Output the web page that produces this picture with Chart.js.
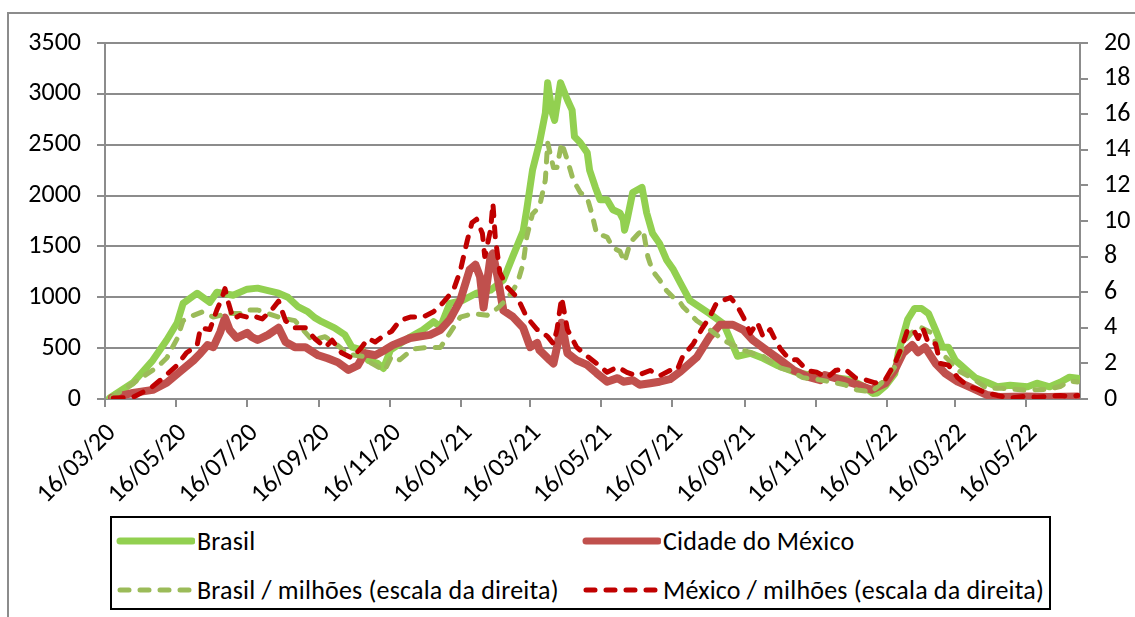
<!DOCTYPE html>
<html>
<head>
<meta charset="utf-8">
<script src="https://cdn.jsdelivr.net/npm/chart.js@4.4.1/dist/chart.umd.min.js"></script>
<style>
  html, body { margin: 0; padding: 0; background: #fff; }
  #wrap { position: relative; width: 1135px; height: 617px; overflow: hidden; font-family: Carlito, Lato, sans-serif; }
  #frame { position: absolute; left: 7px; top: 12px; width: 1140px; height: 620px; border-top: 2px solid #8c8c8c; border-left: 2px solid #8c8c8c; }
  canvas { position: absolute; left: 0; top: 0; }
  #legend { position: absolute; left: 110px; top: 516px; width: 937px; height: 90px; border: 2px solid #000; background: #fff; }
  .item { position: absolute; height: 30px; display: flex; align-items: center; font-size: 26px; letter-spacing: 0.2px; color: #000; white-space: nowrap; }
  .item svg { margin-right: 2px; }
</style>
</head>
<body>
<div id="wrap">
  <div id="frame"></div>
  <canvas id="c" width="1135" height="617"></canvas>
  <div id="legend">
    <div class="item" style="left:3px;top:8px;"><svg width="80" height="12"><line x1="5" y1="6" x2="77" y2="6" stroke="#92D050" stroke-width="7" stroke-linecap="round"/></svg><span>Brasil</span></div>
    <div class="item" style="left:469px;top:8px;"><svg width="80" height="12"><line x1="5" y1="6" x2="77" y2="6" stroke="#C0504D" stroke-width="7" stroke-linecap="round"/></svg><span>Cidade do México</span></div>
    <div class="item" style="left:3px;top:57px;"><svg width="80" height="12"><line x1="5" y1="6" x2="77" y2="6" stroke="#9BBB59" stroke-width="5" stroke-linecap="round" stroke-dasharray="9 11"/></svg><span>Brasil / milhões (escala da direita)</span></div>
    <div class="item" style="left:469px;top:57px;"><svg width="80" height="12"><line x1="5" y1="6" x2="77" y2="6" stroke="#C00000" stroke-width="5" stroke-linecap="round" stroke-dasharray="9 11"/></svg><span>México / milhões (escala da direita)</span></div>
  </div>
</div>
<script>
// Day offsets are counted from 16/03/2020.
const startDate = '2020-03-16';
const lastDay = 837;

const xTickLabels = ['16/03/20','16/05/20','16/07/20','16/09/20','16/11/20','16/01/21','16/03/21','16/05/21','16/07/21','16/09/21','16/11/21','16/01/22','16/03/22','16/05/22'];

const yLeftTicks = [0, 500, 1000, 1500, 2000, 2500, 3000, 3500];
const yRightTicks = [0, 2, 4, 6, 8, 10, 12, 14, 16, 18, 20];

const seriesNames = ['Brasil', 'Cidade do México', 'Brasil / milhões (escala da direita)', 'México / milhões (escala da direita)'];

const brasilDays   = [4,24,41,53,62,67,79,90,96,110,122,131,149,157,166,174,180,186,197,206,212,221,226,234,239,245,262,273,282,288,296,307,319,331,342,350,359,362,367,373,378,380,384,386,391,397,401,403,408,414,416,421,425,431,436,442,445,446,448,453,461,465,470,476,482,488,494,502,519,531,543,554,565,577,591,603,614,627,640,652,659,663,670,678,681,689,695,701,707,713,719,724,730,734,741,747,757,766,777,792,800,811,820,828,835];
const brasilValues = [10,160,380,580,750,940,1040,950,1050,1020,1080,1090,1040,1000,905,860,800,760,700,630,510,480,380,350,300,480,610,680,760,710,940,970,1040,1070,1170,1400,1650,1860,2250,2520,2810,3110,2810,2740,3110,2940,2840,2580,2520,2420,2250,2080,1960,1960,1860,1830,1760,1660,1750,2030,2080,1830,1630,1530,1370,1270,1140,970,840,740,420,450,400,330,270,240,230,210,190,120,55,60,130,250,450,780,890,890,840,680,510,510,380,340,270,210,165,120,135,120,155,120,165,215,205];

const cidadeDays   = [6,24,41,53,64,76,82,88,93,99,103,107,113,122,126,131,140,149,155,163,172,183,191,200,209,217,223,232,240,247,262,279,288,296,305,313,318,322,325,331,333,337,342,350,359,365,371,373,382,385,388,392,397,405,414,422,431,440,445,453,459,468,476,485,494,508,519,528,539,548,556,568,580,591,603,614,618,633,646,658,670,678,685,693,698,704,713,721,732,744,757,768,790,810,835];
const cidadeValues = [10,60,90,160,265,380,450,530,510,660,800,680,600,650,610,580,630,700,560,510,510,430,400,360,285,330,450,430,480,530,600,630,680,780,970,1270,1320,1200,900,1400,1430,1200,870,810,700,510,550,480,380,350,510,750,450,380,335,255,170,205,170,185,140,155,170,195,270,410,610,730,730,680,580,480,380,285,220,185,235,185,140,90,155,285,450,530,460,510,350,255,170,110,40,20,25,20,25];

const brasilMilDays   = [6,45,53,62,67,76,84,93,105,116,122,131,149,163,178,189,200,209,221,229,240,246,253,264,276,288,296,305,316,328,337,345,354,359,362,367,373,378,380,385,388,392,397,402,408,414,418,422,431,436,442,446,451,458,462,466,470,476,482,488,494,496,508,519,531,543,554,565,577,588,599,611,620,635,646,658,670,678,687,695,701,710,715,724,732,744,757,770,790,810,820,828,835];
const brasilMilValues = [0.1,1.8,2.3,3.4,4.4,4.7,4.9,4.6,4.8,4.8,5.0,5.0,4.6,4.4,3.3,3.5,3.0,2.5,2.4,2.0,1.6,2.4,2.2,2.8,2.9,2.9,3.7,4.6,4.8,4.7,5.1,5.6,6.5,7.6,9.1,10.4,10.8,12.3,14.4,13.0,13.0,14.4,13.4,12.3,11.6,11.3,10.4,9.3,9.1,8.5,8.3,7.7,8.8,9.3,9.5,8.0,7.2,6.7,6.1,5.7,5.4,5.2,4.4,3.9,3.3,2.9,2.6,2.4,1.8,1.6,1.2,1.1,1.0,0.8,0.5,0.4,1.1,1.8,3.3,3.9,4.0,3.7,2.8,2.2,1.6,1.2,0.6,0.6,0.5,0.55,0.7,1.0,0.95];

const mexicoMilDays   = [7,24,39,50,62,70,79,82,90,96,100,103,106,110,116,122,126,135,143,149,155,163,172,180,189,195,203,212,219,226,232,238,246,253,262,273,282,290,299,305,311,315,319,324,326,331,333,335,339,345,354,362,371,373,380,385,388,392,397,405,414,422,431,440,448,456,468,476,485,491,496,505,513,519,525,537,543,548,554,560,565,571,574,580,588,594,603,611,620,627,635,644,652,661,670,678,684,689,694,698,702,707,713,717,724,732,741,747,754,766,777,790,800,810,820,828,835];
const mexicoMilValues = [0.05,0.1,0.6,1.2,1.9,2.6,3.0,4.0,3.9,5.0,5.6,6.2,5.4,4.5,4.7,4.6,4.7,4.5,5.0,5.5,4.4,4.0,4.0,3.4,2.9,3.3,2.6,2.3,2.8,3.4,3.2,3.5,3.8,4.4,4.6,4.6,4.9,5.4,6.1,7.2,8.9,9.9,10.1,9.3,8.0,9.5,11.0,9.1,7.1,6.3,5.7,4.6,3.9,3.9,3.5,3.1,3.9,5.7,3.9,2.9,2.4,2.0,1.5,1.8,1.5,1.3,1.6,1.3,1.6,1.6,2.4,3.1,4.0,4.6,5.4,5.7,5.2,4.6,3.7,4.3,3.5,3.9,3.5,2.8,2.2,2.2,1.6,1.5,1.2,1.6,1.7,1.2,1.1,0.9,1.1,2.0,2.9,3.9,3.9,3.4,4.0,3.1,3.1,2.0,1.9,1.2,0.7,0.6,0.4,0.2,0.05,0.15,0.1,0.15,0.2,0.15,0.2];

function pts(days, vals) { return days.map((d, i) => ({ x: d, y: vals[i] })); }
function dayOf(label) {
  const [d, m, y] = label.split('/').map(Number);
  const t = Date.UTC(2000 + y, m - 1, d);
  const s = Date.parse(startDate + 'T00:00:00Z');
  return Math.round((t - s) / 86400000);
}
const xTickDays = xTickLabels.map(dayOf);

const FONT = { family: 'Carlito, Lato, sans-serif', size: 26 };
const GRID = '#8c8c8c';

new Chart(document.getElementById('c'), {
  type: 'line',
  data: {
    datasets: [
      { label: seriesNames[0], data: pts(brasilDays, brasilValues), yAxisID: 'y', borderColor: '#92D050', borderWidth: 7, order: 4 },
      { label: seriesNames[1], data: pts(cidadeDays, cidadeValues), yAxisID: 'y', borderColor: '#C0504D', borderWidth: 8, order: 3 },
      { label: seriesNames[2], data: pts(brasilMilDays, brasilMilValues), yAxisID: 'y2', borderColor: '#9BBB59', borderWidth: 5, borderDash: [9, 11], order: 2 },
      { label: seriesNames[3], data: pts(mexicoMilDays, mexicoMilValues), yAxisID: 'y2', borderColor: '#C00000', borderWidth: 5, borderDash: [10, 11], order: 1 }
    ]
  },
  options: {
    responsive: false,
    animation: false,
    devicePixelRatio: 1,
    layout: { padding: { top: 43, left: 0, right: 0, bottom: 0 } },
    elements: {
      point: { radius: 0 },
      line: { tension: 0, borderCapStyle: 'round', borderJoinStyle: 'round', fill: false }
    },
    plugins: { legend: { display: false }, tooltip: { enabled: false } },
    scales: {
      x: {
        type: 'linear', min: 0, max: lastDay,
        afterBuildTicks: s => { s.ticks = xTickDays.map(v => ({ value: v })); },
        afterFit: s => { s.height = 617 - 399; },
        ticks: { autoSkip: false, maxRotation: 45, minRotation: 45, font: FONT, color: '#000', padding: 11, labelOffset: 7,
                 callback: (v, i) => xTickLabels[i] },
        grid: { drawOnChartArea: false, drawTicks: true, tickLength: 8, color: GRID, lineWidth: 2 },
        border: { color: GRID, width: 2 }
      },
      y: {
        position: 'left', min: 0, max: 3500,
        afterBuildTicks: s => { s.ticks = yLeftTicks.map(v => ({ value: v })); },
        afterFit: s => { s.width = 105; },
        ticks: { font: FONT, color: '#000', padding: 16, callback: v => String(v) },
        grid: { color: GRID, lineWidth: 2, tickLength: 8 },
        border: { color: GRID, width: 2 }
      },
      y2: {
        position: 'right', min: 0, max: 20,
        afterBuildTicks: s => { s.ticks = yRightTicks.map(v => ({ value: v })); },
        afterFit: s => { s.width = 1135 - 1080; },
        ticks: { font: FONT, color: '#000', padding: 16, callback: v => String(v) },
        grid: { drawOnChartArea: false, color: GRID, lineWidth: 2, tickLength: 8 },
        border: { color: GRID, width: 2 }
      }
    }
  }
});
</script>
</body>
</html>
